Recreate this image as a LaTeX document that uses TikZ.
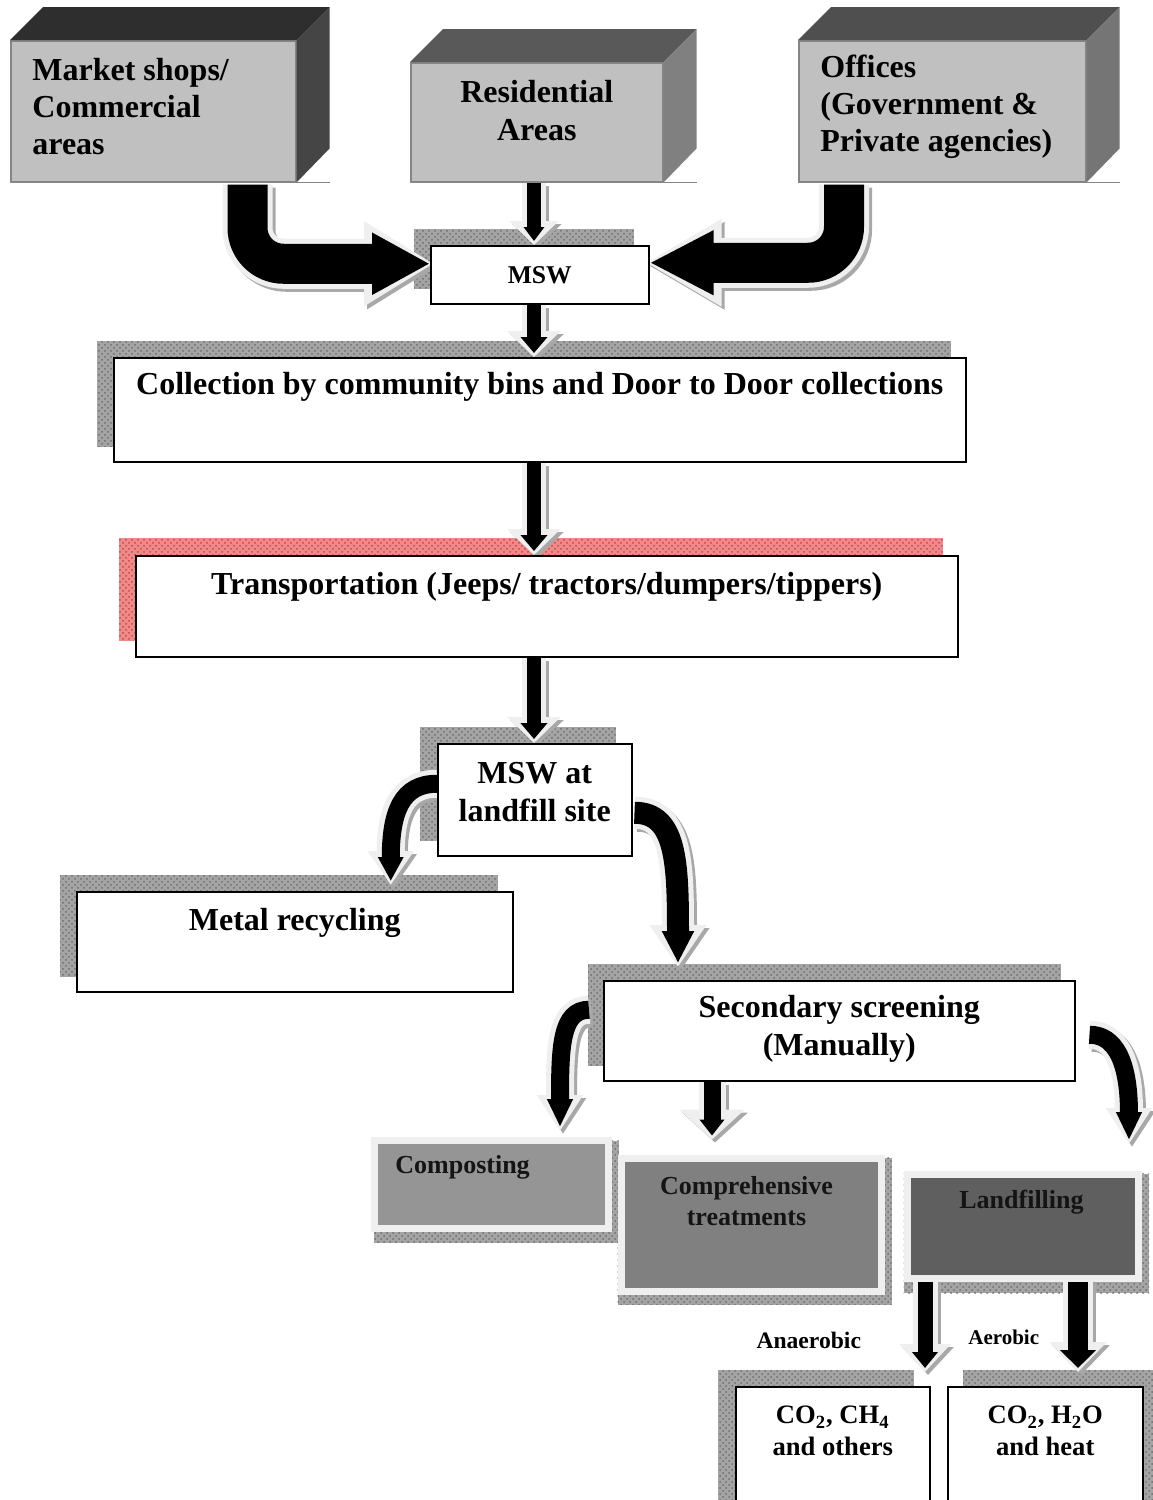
\documentclass[tikz,border=0pt]{standalone}
\usepackage{fontspec}
\setmainfont{Liberation Serif}
\usetikzlibrary{calc,arrows.meta,patterns}
\pgfdeclarelayer{back}
\pgfdeclarelayer{bg}
\pgfdeclarelayer{mid}
\pgfsetlayers{back,bg,mid,main}
\definecolor{front}{HTML}{C0C0C0}
\definecolor{boxedge}{HTML}{858585}
\definecolor{halo}{HTML}{EFEFEF}
\definecolor{arrshd}{HTML}{A8A8A8}
\definecolor{shdgray}{HTML}{A4A4A4}
\definecolor{shdline}{HTML}{6E6E6E}
\definecolor{shdred}{HTML}{F08A8A}
\definecolor{shdredline}{HTML}{C04848}
\definecolor{compfill}{HTML}{959595}
\definecolor{comphfill}{HTML}{808080}
\definecolor{lfillfill}{HTML}{5F5F5F}
\newcommand\fs[2]{\fontsize{#1}{#2}\selectfont\bfseries}
\newcommand\cubefaces[3]{%
  \fill[#2] (#1.north west) -- ++(33,-33) -- ($(#1.north east)+(33,-33)$) -- (#1.north east) -- cycle;
  \fill[#3] (#1.north east) -- ++(33,-33) -- ($(#1.south east)+(33,-34)$) -- (#1.south east) -- cycle;
  \draw[boxedge, line width=0.75pt] (#1.south east) -- ++(33,0);}
\newcommand\fatarrow[7]{%
  \pgfmathsetmacro\fahw{#1+5}%
  \draw[#6, line width=\fahw pt, arrshd, -{Triangle[width=#4pt,length=#5pt]}, shorten >=-2pt, transform canvas={shift={(1.5pt,-1.5pt)}}] #7;%
  \draw[#6, line width=\fahw pt, halo, -{Triangle[width=#4pt,length=#5pt]}, shorten >=-2pt] #7;%
  \draw[#6, line width=#1pt, black, -{Triangle[width=#2pt,length=#3pt]}] #7;}
\tikzset{
  wbox/.style={draw=black, fill=white, line width=0.75pt, inner sep=0pt, anchor=north west},
  fbox/.style={draw=boxedge, fill=front, line width=0.75pt, inner sep=0pt, anchor=north west},
  gbox/.style={draw=halo, line width=3.5pt, inner sep=0pt, anchor=north west},
  txt/.style={inner sep=0pt, align=center, font=\fs{16}{19}},
  gtxt/.style={inner sep=0pt, align=center, font=\fs{13}{15.5}, text=black!92},
  shd/.style={fill=shdgray, postaction={pattern=crosshatch dots, pattern color=shdline}},
  shdr/.style={fill=shdred, postaction={pattern=crosshatch dots, pattern color=shdredline}},
}
\begin{document}
\begin{tikzpicture}[x=0.5pt,y=-0.5pt]
\useasboundingbox (0,0) rectangle (1152,1500);
\clip (0,0) rectangle (1152,1500);
\begin{pgfonlayer}{back}
  \fill[white] (0,0) rectangle (1152,1500);
\end{pgfonlayer}

% ---------- source boxes (3D) ----------
\node[fbox, minimum width=142.5pt, minimum height=70.5pt] (mkt) at (10,40) {};
\cubefaces{mkt}{black!82}{black!73}
\node[fbox, minimum width=126pt, minimum height=59.5pt] (res) at (410,62) {};
\cubefaces{res}{black!65}{black!50}
\node[fbox, minimum width=143.5pt, minimum height=70.5pt] (off) at (798,40) {};
\cubefaces{off}{black!69}{black!54}

\node[txt, align=left, anchor=west, font=\fs{16}{18.5}] (mktT) at ($(mkt.north west)+(22,67)$) {Market shops/\\Commercial\\areas};
\node[txt] (resT) at ($(res.north)+(0,49)$) {Residential\\Areas};
\node[txt, align=left, anchor=west, font=\fs{16}{18.5}] (offT) at ($(off.north west)+(22,67)$) {Offices\\(Government \&\\Private agencies)};

% ---------- white process boxes ----------
\node[wbox, minimum width=109pt, minimum height=29pt, font=\fs{12.8}{15}] (msw) at (430,245) {MSW};
\node[wbox, minimum width=426pt, minimum height=52pt] (coll) at (113,357) {};
\node[txt] (collT) at ($(coll.north)+(0,30)$) {Collection by community bins and Door to Door collections};
\node[wbox, minimum width=411pt, minimum height=50.5pt] (trans) at (135,555) {};
\node[txt] (transT) at ($(trans.north)+(0,32)$) {Transportation (Jeeps/ tractors/dumpers/tippers)};
\node[wbox, minimum width=97pt, minimum height=56pt] (lf) at (437,743) {};
\node[txt] (lfT) at ($(lf.north)+(0,49)$) {MSW at\\landfill site};
\node[wbox, minimum width=218pt, minimum height=50pt] (metal) at (76,891) {};
\node[txt] (metalT) at ($(metal.north)+(0,32)$) {Metal recycling};
\node[wbox, minimum width=235.5pt, minimum height=50pt] (sec) at (603,980) {};
\node[txt] (secT) at ($(sec.north)+(0,49)$) {Secondary screening\\(Manually)};

% ---------- gray treatment boxes ----------
\node[gbox, fill=compfill, minimum width=117pt, minimum height=44pt] (compo) at (370.5,1136.5) {};
\node[gtxt, anchor=west] (compoT) at ($(compo.north west)+(24.5,30.5)$) {Composting};
\node[gbox, fill=comphfill, minimum width=130pt, minimum height=66.5pt] (comph) at (617.5,1154.5) {};
\node[gtxt] (comphT) at ($(comph.north)+(-4.5,46.5)$) {Comprehensive\\treatments};
\node[gbox, fill=lfillfill, minimum width=115.5pt, minimum height=52pt] (lfill) at (903.5,1170.5) {};
\node[gtxt] (lfillT) at ($(lfill.north)+(-1,31.5)$) {Landfilling};

% ---------- products ----------
\node[wbox, minimum width=97pt, minimum height=70pt] (co2a) at (735,1386) {};
\node[wbox, minimum width=97.5pt, minimum height=70pt] (co2b) at (947,1386) {};
\node[inner sep=0pt, align=center, font=\fs{13.3}{16}] (co2aT) at ($(co2a.north)+(0,45)$) {CO\textsubscript{2}, CH\textsubscript{4}\\and others};
\node[inner sep=0pt, align=center, font=\fs{13.3}{16}] (co2bT) at ($(co2b.north)+(0,45)$) {CO\textsubscript{2}, H\textsubscript{2}O\\and heat};
\node[inner sep=0pt, font=\fs{11.8}{14}] (anaT) at ($(co2a.north)+(-24,-46)$) {Anaerobic};
\node[inner sep=0pt, font=\fs{10.5}{13}] (aerT) at ($(co2b.north)+(-41.5,-49)$) {Aerobic};

% ---------- shadows ----------
\begin{pgfonlayer}{bg}
  \fill[shd] ($(msw.north west)+(-16,-16)$) rectangle ($(msw.south east)+(-16,-16)$);
  \fill[shd] ($(coll.north west)+(-16,-16)$) rectangle ($(coll.south east)+(-16,-16)$);
  \fill[shdr] ($(trans.north west)+(-16,-17)$) rectangle ($(trans.south east)+(-16,-17)$);
  \fill[shd] ($(lf.north west)+(-17,-16)$) rectangle ($(lf.south east)+(-17,-16)$);
  \fill[shd] ($(metal.north west)+(-16,-16)$) rectangle ($(metal.south east)+(-16,-16)$);
  \fill[shd] ($(sec.north west)+(-15,-16)$) rectangle ($(sec.south east)+(-15,-16)$);
  \fill[shd] ($(compo.north west)+(3,4)$) rectangle ($(compo.south east)+(7,11)$);
  \fill[shd] ($(comph.north west)+(0,3)$) rectangle ($(comph.south east)+(7,10)$);
  \fill[shd] ($(lfill.north west)+(0,3)$) rectangle ($(lfill.south east)+(7.5,11.5)$);
  \fill[shd] ($(co2a.north west)+(-17,-16)$) rectangle ($(co2a.south east)+(-17,-16)$);
  \fill[shd] ($(co2b.north west)+(16,-16)$) rectangle ($(co2b.south east)+(16,-16)$);
\end{pgfonlayer}

% ---------- arrows ----------
\coordinate (sp) at (534,0);
\coordinate (jx) at (712,0);
\coordinate (lx) at (925,0);
\coordinate (mx) at (1078,0);
\begin{pgfonlayer}{mid}
  \fatarrow{20}{29}{29}{40}{35}{rounded corners=18pt}{($(mkt.south east)+(-49,2)$) |- ([yshift=5.5pt]msw.west)}
  \fatarrow{20}{30}{32}{41}{38}{rounded corners=18pt}{($(off.south west)+(46,2)$) |- ([yshift=6pt]msw.east)}
  \fatarrow{7}{10}{7}{24}{12}{}{(sp |- res.south) -- ($(sp |- msw.north)+(0,-4)$)}
  \fatarrow{7}{13}{8}{26}{13}{}{(sp |- msw.south) -- ($(sp |- coll.north)+(0,-4)$)}
  \fatarrow{7}{13}{8}{26}{13}{}{(sp |- coll.south) -- ($(sp |- trans.north)+(0,-4)$)}
  \fatarrow{7}{13}{8}{26}{13}{}{(sp |- trans.south) -- ($(sp |- lf.north)+(0,-4)$)}
  \fatarrow{9}{12}{12}{22}{17}{}{($(lf.west)+(0,-16)$) .. controls +(-35,0) and +(0,-70) .. ($(metal.north)+(96,-10)$)}
  \fatarrow{11}{15}{16}{27}{21}{}{($(lf.east)+(2,13)$) .. controls +(42,0) and +(0,-100) .. ($(sec.north west)+(75,-17)$)}
  \fatarrow{9}{12}{14}{22}{18}{}{($(sec.west)+(-14,-21)$) .. controls +(-28,0) and +(0,-80) .. ($(compo.north east)+(-51.5,-9.5)$)}
  \fatarrow{8.5}{12}{8}{32}{15}{}{(jx |- sec.south) -- ($(jx |- comph.north)+(0,-19)$)}
  \fatarrow{9}{12}{14}{22}{18}{}{($(sec.east)+(14,4)$) .. controls +(25,0) and +(0,-80) .. ($(lfill.north east)+(-12.5,-30.5)$)}
  \fatarrow{7.5}{12.5}{8}{25}{14}{}{(lx |- lfill.south) -- ($(lx |- co2a.north)+(0,-18)$)}
  \fatarrow{10}{17.5}{9}{28}{15}{}{(mx |- lfill.south) -- ($(mx |- co2b.north)+(0,-18)$)}
\end{pgfonlayer}
\end{tikzpicture}
\end{document}
